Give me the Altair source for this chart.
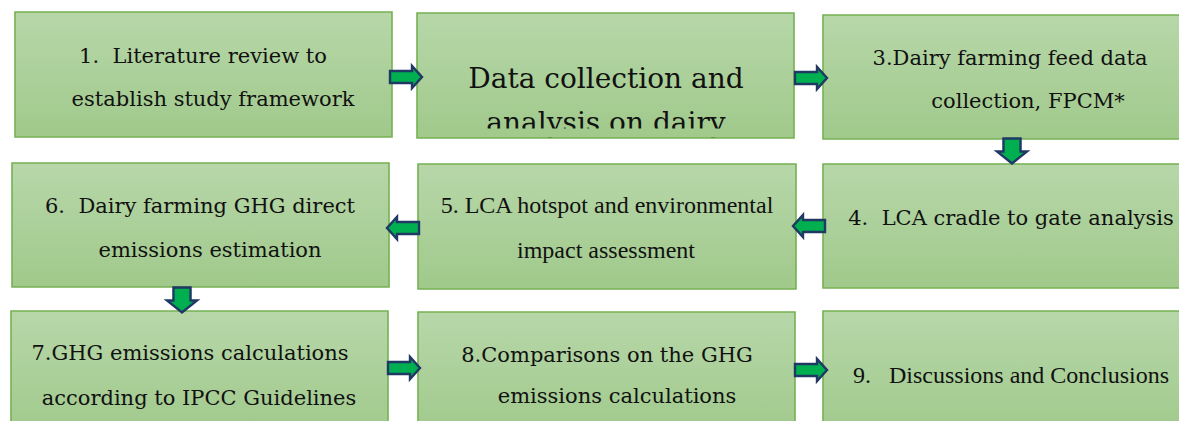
import altair as alt
import pandas as pd

# ---------------- data: flowchart steps ----------------
STEPS = [1, 2, 3, 4, 5, 6, 7, 8, 9]
STEP_LINES = [
    ["1.\u00a0 Literature review to", "establish study framework"],
    ["Data collection and", "analysis on dairy"],
    ["3.Dairy farming feed data", "collection, FPCM*"],
    ["4.\u00a0 LCA cradle to gate analysis"],
    ["5. LCA hotspot and environmental", "impact assessment"],
    ["6.\u00a0 Dairy farming GHG direct", "emissions estimation"],
    ["7.GHG emissions calculations", "according to IPCC Guidelines"],
    ["8.Comparisons on the GHG", "emissions calculations"],
    ["9.\u00a0\u00a0 Discussions and Conclusions"],
]
FLOW_FROM = [1, 2, 3, 4, 5, 6, 7, 8]
FLOW_TO = [2, 3, 4, 5, 6, 7, 8, 9]

# ---------------- layout (page pixel coordinates) ----------------
BOX = {
    1: (15, 12, 392, 137), 2: (417, 13, 794, 138), 3: (823, 15, 1200, 139),
    6: (12, 163, 389, 287), 5: (418, 164, 796, 289), 4: (823, 164, 1200, 288),
    7: (11, 311, 388, 436), 8: (418, 312, 795, 437), 9: (823, 311, 1200, 436),
}
# font family per step (Palatino-like vs Times-like in the original)
STEP_FONT = {1: "DejaVu Serif", 2: "DejaVu Serif", 3: "DejaVu Serif",
             4: "DejaVu Serif", 5: "Liberation Serif", 6: "DejaVu Serif",
             7: "DejaVu Serif", 8: "DejaVu Serif", 9: "Liberation Serif"}
# per line: (centre x, baseline y, font size)
TEXT_POS = {
    1: [(203, 63, 21), (213, 106, 21)],
    2: [(606, 88, 28), (606, 132, 28)],
    3: [(1010, 65, 21), (1028, 108, 21)],
    4: [(1011, 225, 21)],
    5: [(607, 213, 24), (606, 258, 24)],
    6: [(200, 213, 21), (210, 257, 21)],
    7: [(190, 360, 21), (199, 405, 21)],
    8: [(607, 362, 21), (617, 403, 21)],
    9: [(1011, 383, 24)],
}
# arrow centres: (x, y, angle) ; vertical ones point down
ARROW_POS = {
    (1, 2): (406, 77, 0), (2, 3): (811, 78, 0), (3, 4): (1012, 151, 90),
    (4, 5): (809, 226, 180), (5, 6): (403, 228, 180), (6, 7): (182, 300, 90),
    (7, 8): (404, 368, 0), (8, 9): (811, 370, 0),
}

W, H = 1171, 413
X0, Y0 = 8, 8

boxes = pd.DataFrame([
    {"step": s, "x": BOX[s][0], "y": BOX[s][1], "x2": BOX[s][2], "y2": BOX[s][3]}
    for s in STEPS
])

texts = []
for s, lines in zip(STEPS, STEP_LINES):
    for (cx, by, fs), line in zip(TEXT_POS[s], lines):
        texts.append({"step": s, "text": line, "x": cx, "y": by, "fs": fs,
                      "font": STEP_FONT[s]})
texts = pd.DataFrame(texts)

harrows, varrows = [], []
for a, b in zip(FLOW_FROM, FLOW_TO):
    x, y, ang = ARROW_POS[(a, b)]
    if ang == 90:
        varrows.append({"x": x, "y": y})
    else:
        harrows.append({"x": x, "y": y, "angle": ang})
harrows = pd.DataFrame(harrows)
varrows = pd.DataFrame(varrows)

# clipped second line of box 2: mask strip inside box + white gap below
mask_in = pd.DataFrame([{"x": 418, "x2": 793, "y": 128.5, "y2": 137.3}])
mask_out = pd.DataFrame([{"x": 396, "x2": 815, "y": 138.6, "y2": 161}])

xs = alt.Scale(domain=[X0, X0 + W])
ys = alt.Scale(domain=[Y0, Y0 + H], reverse=True)

def X(f="x"):
    return alt.X(f + ":Q", scale=xs, axis=None)

def Y(f="y"):
    return alt.Y(f + ":Q", scale=ys, axis=None)

grad = alt.Gradient(
    gradient="linear",
    stops=[alt.GradientStop(color="#b7d7a9", offset=0),
           alt.GradientStop(color="#a0c98b", offset=1)],
    x1=0, x2=0, y1=0, y2=1,
)

box_fill = alt.Chart(boxes).mark_rect(color=grad, clip=True).encode(
    x=X(), x2="x2:Q", y=Y(), y2="y2:Q"
)
box_line = alt.Chart(boxes).mark_rect(
    fillOpacity=0, stroke="#76b152", strokeWidth=1.6, clip=True
).encode(x=X(), x2="x2:Q", y=Y(), y2="y2:Q")

def text_layer(font):
    return alt.Chart(texts).transform_filter(
        alt.datum.font == font
    ).mark_text(
        font=font, align="center", baseline="alphabetic", color="#111111"
    ).encode(
        x=X(), y=Y(), text="text:N",
        size=alt.Size("fs:Q", scale=None, legend=None)
    )

txt_a = text_layer("DejaVu Serif")
txt_b = text_layer("Liberation Serif")

m_in = alt.Chart(mask_in).mark_rect(color="#a2ca8d").encode(
    x=X(), x2="x2:Q", y=Y(), y2="y2:Q"
)
m_out = alt.Chart(mask_out).mark_rect(color="white").encode(
    x=X(), x2="x2:Q", y=Y(), y2="y2:Q"
)

H_PATH = ("M -1 -0.375 L 0.375 -0.375 L 0.375 -0.69 L 1 0 "
          "L 0.375 0.69 L 0.375 0.375 L -1 0.375 Z")
V_PATH = ("M -0.57 -0.83 L 0.57 -0.83 L 0.57 0.03 L 1 0.03 "
          "L 0 0.83 L -1 0.03 L -0.57 0.03 Z")

h_ar = alt.Chart(harrows).mark_point(
    shape=H_PATH, size=1024, filled=True, fill="#00b050", fillOpacity=1,
    stroke="#1f3864", strokeWidth=2.4, opacity=1
).encode(x=X(), y=Y(), angle=alt.Angle("angle:Q", scale=None))

v_ar = alt.Chart(varrows).mark_point(
    shape=V_PATH, size=900, filled=True, fill="#00b050", fillOpacity=1,
    stroke="#1f3864", strokeWidth=2.4, opacity=1
).encode(x=X(), y=Y())

chart = alt.layer(box_fill, txt_a, txt_b, m_in, m_out, box_line, h_ar, v_ar).properties(
    width=W, height=H, padding=0, background="white"
).configure_view(stroke=None)

chart.save("out.html", embed_options={"renderer": "svg", "actions": False})
